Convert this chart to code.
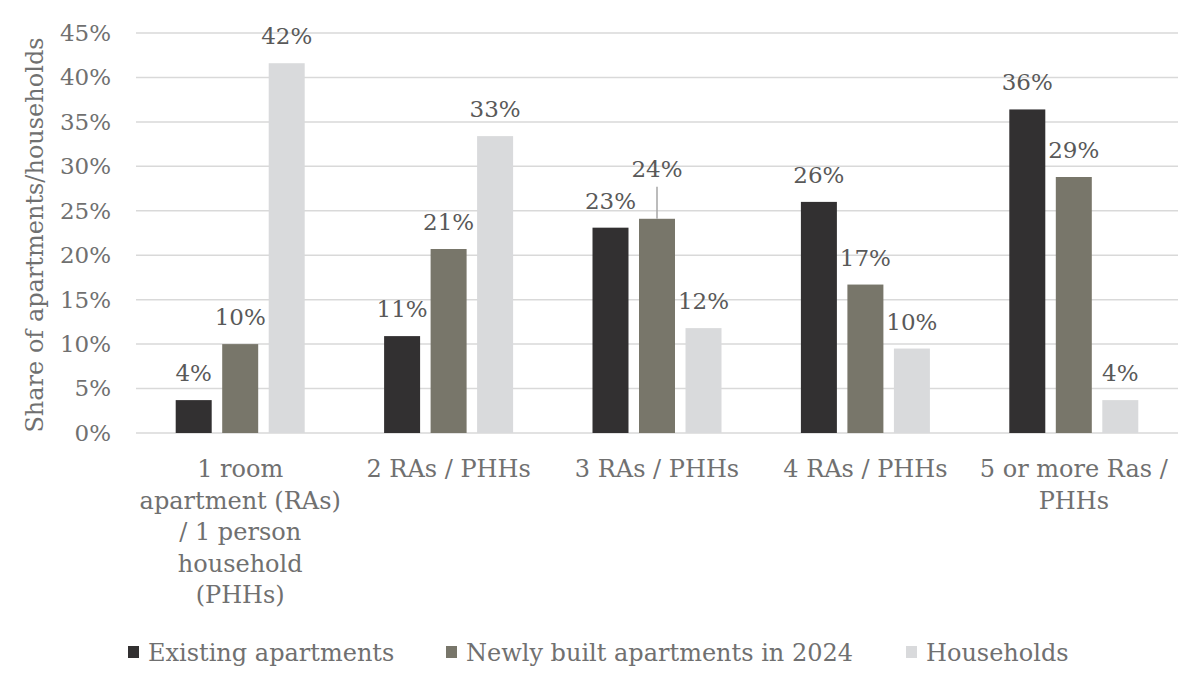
<!DOCTYPE html>
<html>
<head>
<meta charset="utf-8">
<script src="https://cdn.jsdelivr.net/npm/d3@7"></script>
<style>
  html, body { margin: 0; padding: 0; background: #fff; }
  svg { display: block; font-family: "DejaVu Serif", Georgia, serif; }
</style>
</head>
<body>
<div id="chart"></div>
<script>
/** chart data */
const categories = [
  "1 room\napartment (RAs)\n/ 1 person\nhousehold\n(PHHs)",
  "2 RAs / PHHs",
  "3 RAs / PHHs",
  "4 RAs / PHHs",
  "5 or more Ras /\nPHHs",
];
const seriesNames = [
  "Existing apartments",
  "Newly built apartments in 2024",
  "Households",
];
const existing = [3.7, 10.9, 23.1, 26.0, 36.4];
const newlyBuilt = [10.0, 20.7, 24.1, 16.7, 28.8];
const households = [41.6, 33.4, 11.8, 9.5, 3.7];
const yTicks = [0, 5, 10, 15, 20, 25, 30, 35, 40, 45];
const colors = ["#323031", "#78766a", "#d9dadc"];

const width = 1200;
const height = 685;
const margin = { top: 33, right: 22, bottom: 252, left: 136 };
const textColor = "#707070";

const svg = d3
  .select("#chart")
  .append("svg")
  .attr("width", width)
  .attr("height", height);

/** scales */
const x0 = d3
  .scaleBand()
  .domain(d3.range(categories.length))
  .range([margin.left, width - margin.right])
  .padding(0);
const block = 129;
const x1 = d3
  .scaleBand()
  .domain(d3.range(seriesNames.length))
  .range([(x0.bandwidth() - block) / 2, (x0.bandwidth() + block) / 2])
  .paddingInner(0.226);
const y = d3
  .scaleLinear()
  .domain([0, 45])
  .range([height - margin.bottom, margin.top]);

/** gridlines */
svg
  .append("g")
  .selectAll("line")
  .data(yTicks)
  .join("line")
  .attr("x1", margin.left)
  .attr("x2", width - margin.right)
  .attr("y1", (d) => y(d))
  .attr("y2", (d) => y(d))
  .attr("stroke", "#d9d9d9")
  .attr("stroke-width", 1.5);

/** y axis labels */
const yAxis = d3
  .axisLeft(y)
  .tickValues(yTicks)
  .tickFormat((d) => d + "%")
  .tickSize(0)
  .tickPadding(25);
svg
  .append("g")
  .attr("transform", `translate(${margin.left},0)`)
  .call(yAxis)
  .call((g) => g.select(".domain").remove())
  .call((g) =>
    g
      .selectAll("text")
      .attr("fill", textColor)
      .attr("font-size", 23)
      .attr("font-family", "DejaVu Serif, Georgia, serif")
  );

/** y title */
svg
  .append("text")
  .attr("transform", `translate(43, ${(y(0) + y(45)) / 2 + 2}) rotate(-90)`)
  .attr("text-anchor", "middle")
  .attr("fill", textColor)
  .attr("font-size", 24)
  .text("Share of apartments/households");

/** bars */
const allSeries = [existing, newlyBuilt, households];
const groups = svg
  .append("g")
  .selectAll("g")
  .data(categories.map((c, i) => i))
  .join("g")
  .attr("transform", (i) => `translate(${x0(i)},0)`);

groups
  .selectAll("rect")
  .data((i) => allSeries.map((s, k) => ({ k, v: s[i] })))
  .join("rect")
  .attr("x", (d) => x1(d.k))
  .attr("width", x1.bandwidth())
  .attr("y", (d) => y(d.v))
  .attr("height", (d) => y(0) - y(d.v))
  .attr("fill", (d) => colors[d.k]);

/** value labels (24% label was moved up with a leader line) */
const lifted = (i, k) => i === 2 && k === 1;
groups
  .selectAll("line.leader")
  .data((i) =>
    allSeries.map((s, k) => ({ i, k, v: s[i] })).filter((d) => lifted(d.i, d.k))
  )
  .join("line")
  .attr("class", "leader")
  .attr("x1", (d) => x1(d.k) + x1.bandwidth() / 2)
  .attr("x2", (d) => x1(d.k) + x1.bandwidth() / 2)
  .attr("y1", (d) => y(d.v))
  .attr("y2", (d) => y(d.v) - 32)
  .attr("stroke", "#a6a6a6")
  .attr("stroke-width", 1.5);

groups
  .selectAll("text.value")
  .data((i) => allSeries.map((s, k) => ({ i, k, v: s[i] })))
  .join("text")
  .attr("class", "value")
  .attr("x", (d) => x1(d.k) + x1.bandwidth() / 2)
  .attr("y", (d) => y(d.v) - 19 - (lifted(d.i, d.k) ? 23 : 0))
  .attr("text-anchor", "middle")
  .attr("fill", "#595959")
  .attr("font-size", 23)
  .text((d) => Math.round(d.v) + "%");

/** category labels */
const catText = svg
  .append("g")
  .selectAll("text")
  .data(categories)
  .join("text")
  .attr("x", (d, i) => x0(i) + x0.bandwidth() / 2)
  .attr("y", y(0) + 44)
  .attr("text-anchor", "middle")
  .attr("fill", textColor)
  .attr("font-size", 24);
catText
  .selectAll("tspan")
  .data((d) => d.split("\n"))
  .join("tspan")
  .attr("x", function () {
    return this.parentNode.getAttribute("x");
  })
  .attr("dy", (d, j) => (j === 0 ? 0 : 31.5))
  .text((d) => d);

/** legend */
const legendX = [128, 446, 906];
const legend = svg
  .append("g")
  .selectAll("g")
  .data(seriesNames)
  .join("g")
  .attr("transform", (d, i) => `translate(${legendX[i]}, 652)`);
legend
  .append("rect")
  .attr("x", 0)
  .attr("y", -6)
  .attr("width", 11)
  .attr("height", 12)
  .attr("fill", (d, i) => colors[i]);
legend
  .append("text")
  .attr("x", 20)
  .attr("y", 9)
  .attr("fill", textColor)
  .attr("font-size", 24)
  .text((d) => d);
</script>
</body>
</html>
